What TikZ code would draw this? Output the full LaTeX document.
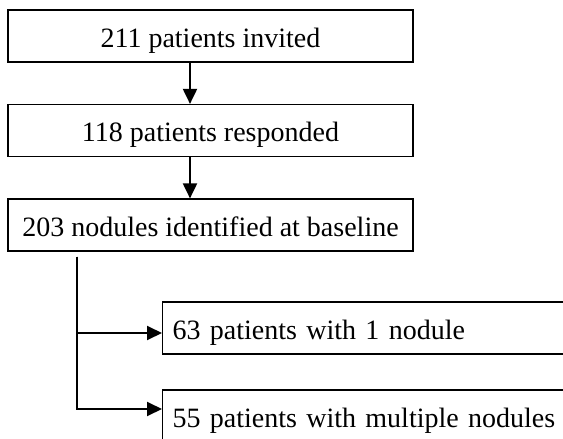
\documentclass[tikz,border=0pt]{standalone}
\usepackage{fontspec}
\setmainfont{Liberation Serif}
\usetikzlibrary{arrows.meta}
\begin{document}
\begin{tikzpicture}[x=1pt,y=-1pt,
  topbox/.style={draw=black,line width=1.2pt,minimum width=405pt,minimum height=52pt,inner sep=0pt,
    text height=22pt,text depth=0pt,font=\fontsize{28}{32}\selectfont},
  sidebox/.style={draw=black,line width=1.2pt,text width=388pt,inner xsep=10pt,inner ysep=0pt,minimum height=52pt,
    align=left,text height=22pt,text depth=0pt,font=\fontsize{28}{32}\selectfont},
  arr/.style={line width=2pt,-{Triangle[length=15pt,width=14pt]}}]
\useasboundingbox (0,0) rectangle (563,439);
\clip (0,0) rectangle (563,439);
\node[topbox] (a) at (210.5,36) {211 patients invited};
\node[topbox] (b) at (210.5,130.5) {118 patients responded};
\node[topbox] (c) at (210.5,225) {203 nodules identified at baseline};
\node[sidebox,anchor=west] (d) at (162,328) {63 patients with 1 nodule};
\node[sidebox,anchor=west] (e) at (162,416) {55 patients with multiple nodules};
\draw[arr] ([xshift=-20.5pt]a.south) -- ([xshift=-20.5pt]b.north);
\draw[arr] ([xshift=-20.5pt]b.south) -- ([xshift=-20.5pt]c.north);
\coordinate (s) at ([xshift=-133.5pt,yshift=-5pt]c.south);
\draw[arr] (s) |- ([yshift=-5pt]d.west);
\draw[arr] (s) |- ([yshift=7pt]e.west);
\end{tikzpicture}
\end{document}
